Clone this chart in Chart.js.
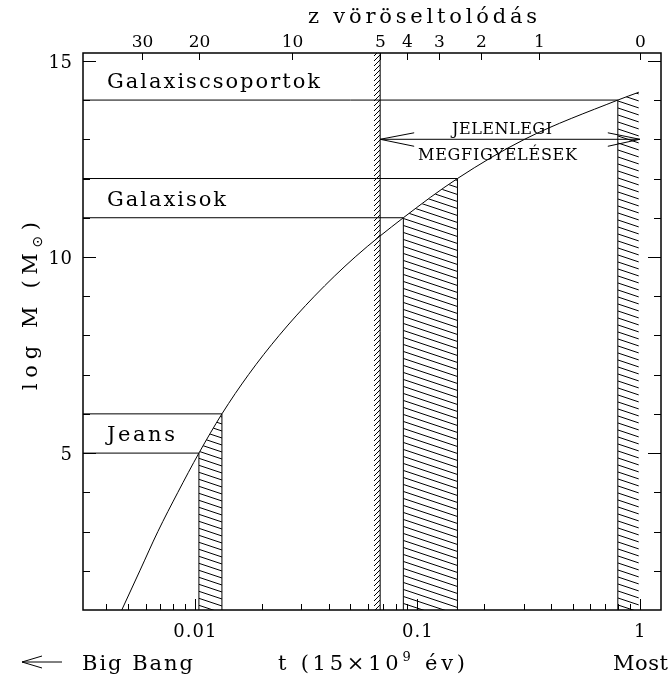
<!DOCTYPE html>
<html><head><meta charset="utf-8">
<script src="https://cdn.jsdelivr.net/npm/chart.js@4/dist/chart.umd.min.js"></script>
<style>html,body{margin:0;padding:0;background:#fff}#wrap{width:671px;height:678px}</style>
</head><body><div id="wrap"><canvas id="c" width="671" height="678"></canvas></div>
<script>
// ---------- data ----------
const curveT    = [0.00469,0.005655,0.006815,0.008383,0.010423,0.013227,0.017418,0.023918,0.034458,0.052529,0.08649,0.15143,0.30339,0.79622,0.98975];
const curveLogM = [1,2,3,4,5,6,7,8,9,10,11,12,13,14,14.2];
const bandT0    = [0.010423,0.08649,0.79622];   // hatched bands: Jeans, Galaxisok, Most
const bandT1    = [0.013227,0.15143,0.98975];
const bandTop0  = [5,11,14];
const bandTop1  = [6,12,14.2];
const bandRightEdge = [true,true,false];
const levelM    = [14,12,11,6,5];               // horizontal level lines
const levelEndT = [0.79622,0.15143,0.08649,0.013227,0.010423];
const levelLabels = ['Galaxiscsoportok','Galaxisok','Jeans'];
const levelLabelM = [14.5,11.5,5.5];
const z5BandT   = [0.0638,0.06804];
const obsRangeT = [0.06804,1.0];
const obsM      = 13;
const zTicks    = [30,20,10,5,4,3,2,1,0];
const xMajorTicks = [0.01,0.1,1];
const xMajorLabels = ['0.01','0.1','1'];
const yMajorTicks = [5,10,15];
const XMIN = 0.00314, XMAX = 1.245, YMIN = 1, YMAX = 15.2;

const FONT = '"DejaVu Serif",serif';
const canvas = document.getElementById('c');
const mctx = canvas.getContext('2d');

function hatch(w,h,dir){
  const c=document.createElement('canvas'); c.width=w; c.height=h;
  const g=c.getContext('2d'); g.strokeStyle='#000'; g.lineWidth=1; g.beginPath();
  for(let k=-1;k<=1;k++){
    if(dir==='\\'){ g.moveTo(-1,k*h-h/w); g.lineTo(w+1,k*h+h+h/w); }
    else { g.moveTo(-1,h+k*h+h/w); g.lineTo(w+1,k*h-h/w); }
  }
  g.stroke();
  return mctx.createPattern(c,'repeat');
}
const patBack = hatch(21,7,'\\');
const patFwd  = hatch(5,5,'/');

const datasets = [];
const lineDs = (pts,extra) => Object.assign({data:pts,borderColor:'#000',borderWidth:1,pointRadius:0,fill:false,tension:0},extra||{});
bandT0.forEach((t0,i)=>{
  datasets.push(lineDs([{x:t0,y:bandTop0[i]},{x:bandT1[i],y:bandTop1[i]}],{borderWidth:0,fill:{value:YMIN},backgroundColor:patBack}));
  datasets.push(lineDs([{x:t0,y:YMIN},{x:t0,y:bandTop0[i]}]));
  if(bandRightEdge[i]) datasets.push(lineDs([{x:bandT1[i],y:YMIN},{x:bandT1[i],y:bandTop1[i]}]));
});
datasets.push(lineDs([{x:z5BandT[0],y:YMAX},{x:z5BandT[1],y:YMAX}],{borderWidth:0,fill:{value:YMIN},backgroundColor:patFwd}));
datasets.push(lineDs([{x:z5BandT[1],y:YMIN},{x:z5BandT[1],y:YMAX}]));
levelM.forEach((m,i)=>datasets.push(lineDs([{x:XMIN,y:m},{x:levelEndT[i],y:m}])));
datasets.push(lineDs([{x:obsRangeT[0],y:obsM},{x:obsRangeT[1],y:obsM}]));
datasets.push(lineDs(curveT.map((t,i)=>({x:t,y:curveLogM[i]})),{cubicInterpolationMode:'monotone'}));

function fontOf(r){return r[1]+'px '+(r[3]||FONT);}
function wRuns(ctx,runs){let w=0;runs.forEach(r=>{ctx.font=fontOf(r);ctx.letterSpacing='0px';w+=ctx.measureText(r[0]).width;});return w;}
function drawRuns(ctx,runs,x,y,align,targetW,ls0){
  const n=runs.reduce((a,r)=>a+[...r[0]].length,0);
  const w0=wRuns(ctx,runs);
  let ls = targetW ? (targetW-w0)/Math.max(1,n-1) : (ls0||0);
  const w = w0 + ls*(n-1);
  let cx = align==='center'? x-w/2 : align==='right'? x-w : x;
  ctx.textAlign='left'; ctx.textBaseline='alphabetic';
  runs.forEach(r=>{
    ctx.font=fontOf(r); ctx.letterSpacing='0px';
    const m=ctx.measureText(r[0]).width;
    ctx.letterSpacing=ls+'px';
    ctx.fillText(r[0],cx,y+(r[2]||0));
    cx += m + ls*[...r[0]].length;
  });
  ctx.letterSpacing='0px';
}
function seg(ctx,x1,y1,x2,y2){ctx.beginPath();ctx.moveTo(x1,y1);ctx.lineTo(x2,y2);ctx.stroke();}

const deco = {
  id:'deco',
  afterDraw(chart){
    const ctx=chart.ctx, a=chart.chartArea, x=chart.scales.x, y=chart.scales.y;
    ctx.save();
    ctx.strokeStyle='#000'; ctx.fillStyle='#000';
    ctx.lineWidth=1.5;
    ctx.strokeRect(a.left,a.top,a.right-a.left,a.bottom-a.top);
    ctx.lineWidth=1;
    [0.001,0.01,0.1,1].forEach(d=>{for(let k=1;k<=9;k++){const v=d*k; if(v<XMIN||v>XMAX) continue;
      const px=Math.round(x.getPixelForValue(v))+0.5; seg(ctx,px,a.bottom,px,a.bottom-(k===1?11:6));}});
    xMajorTicks.forEach((v,i)=>drawRuns(ctx,[[xMajorLabels[i],18]],x.getPixelForValue(v),637,'center',null,1));
    zTicks.forEach(z=>{const px=Math.round(x.getPixelForValue(Math.pow(1+z,-1.5)))+0.5;
      seg(ctx,px,a.top,px,a.top+7);
      drawRuns(ctx,[[String(z),17]],px,46.5,'center',null,0);});
    for(let m=2;m<=15;m++){const py=Math.round(y.getPixelForValue(m))+0.5; const len=yMajorTicks.includes(m)?13:7;
      seg(ctx,a.left,py,a.left+len,py); seg(ctx,a.right,py,a.right-len,py);}
    yMajorTicks.forEach(m=>drawRuns(ctx,[[String(m),18]],72,y.getPixelForValue(m)+7,'right',null,0.5));
    const lw=[213,119,68];
    levelLabels.forEach((s,i)=>drawRuns(ctx,[[s,21]],107,y.getPixelForValue(levelLabelM[i])+7.5,'left',lw[i]));
    const ay=y.getPixelForValue(obsM), xl=x.getPixelForValue(obsRangeT[0]), xr=x.getPixelForValue(obsRangeT[1]);
    ctx.beginPath();ctx.moveTo(xl+34,ay-6.5);ctx.lineTo(xl,ay);ctx.lineTo(xl+34,ay+7);ctx.stroke();
    ctx.beginPath();ctx.moveTo(xr-32,ay-6.5);ctx.lineTo(xr,ay);ctx.lineTo(xr-32,ay+7);ctx.stroke();
    drawRuns(ctx,[['JELENLEGI',16]],502,134,'center',100);
    drawRuns(ctx,[['MEGFIGYELÉSEK',16]],497.5,160,'center',159);
    drawRuns(ctx,[['z vöröseltolódás',21]],308,23,'left',229);
    drawRuns(ctx,[['t (15×10',21],['9',13,-9],[' év)',21]],278,670,'left',187);
    drawRuns(ctx,[['Big Bang',21]],82,670,'left',111);
    drawRuns(ctx,[['Most',21]],668,670,'right',55);
    ctx.beginPath();ctx.moveTo(22,662);ctx.lineTo(62,662);ctx.stroke();
    ctx.beginPath();ctx.moveTo(42,656);ctx.lineTo(22,662);ctx.lineTo(42,668);ctx.stroke();
    ctx.save(); ctx.translate(37,306); ctx.rotate(-Math.PI/2);
    drawRuns(ctx,[['log M (M',21],['⊙',14,5,'"DejaVu Sans",sans-serif'],[')',21]],0,0,'center',168);
    ctx.restore();
    ctx.restore();
  }
};

new Chart(canvas,{
  type:'line',
  data:{datasets},
  options:{
    responsive:false, animation:false, devicePixelRatio:1,
    layout:{padding:{left:83,right:10,top:53,bottom:68}},
    plugins:{legend:{display:false},tooltip:{enabled:false}},
    scales:{
      x:{type:'logarithmic',min:XMIN,max:XMAX,display:false},
      y:{type:'linear',min:YMIN,max:YMAX,display:false}
    }
  },
  plugins:[deco]
});
</script></body></html>
